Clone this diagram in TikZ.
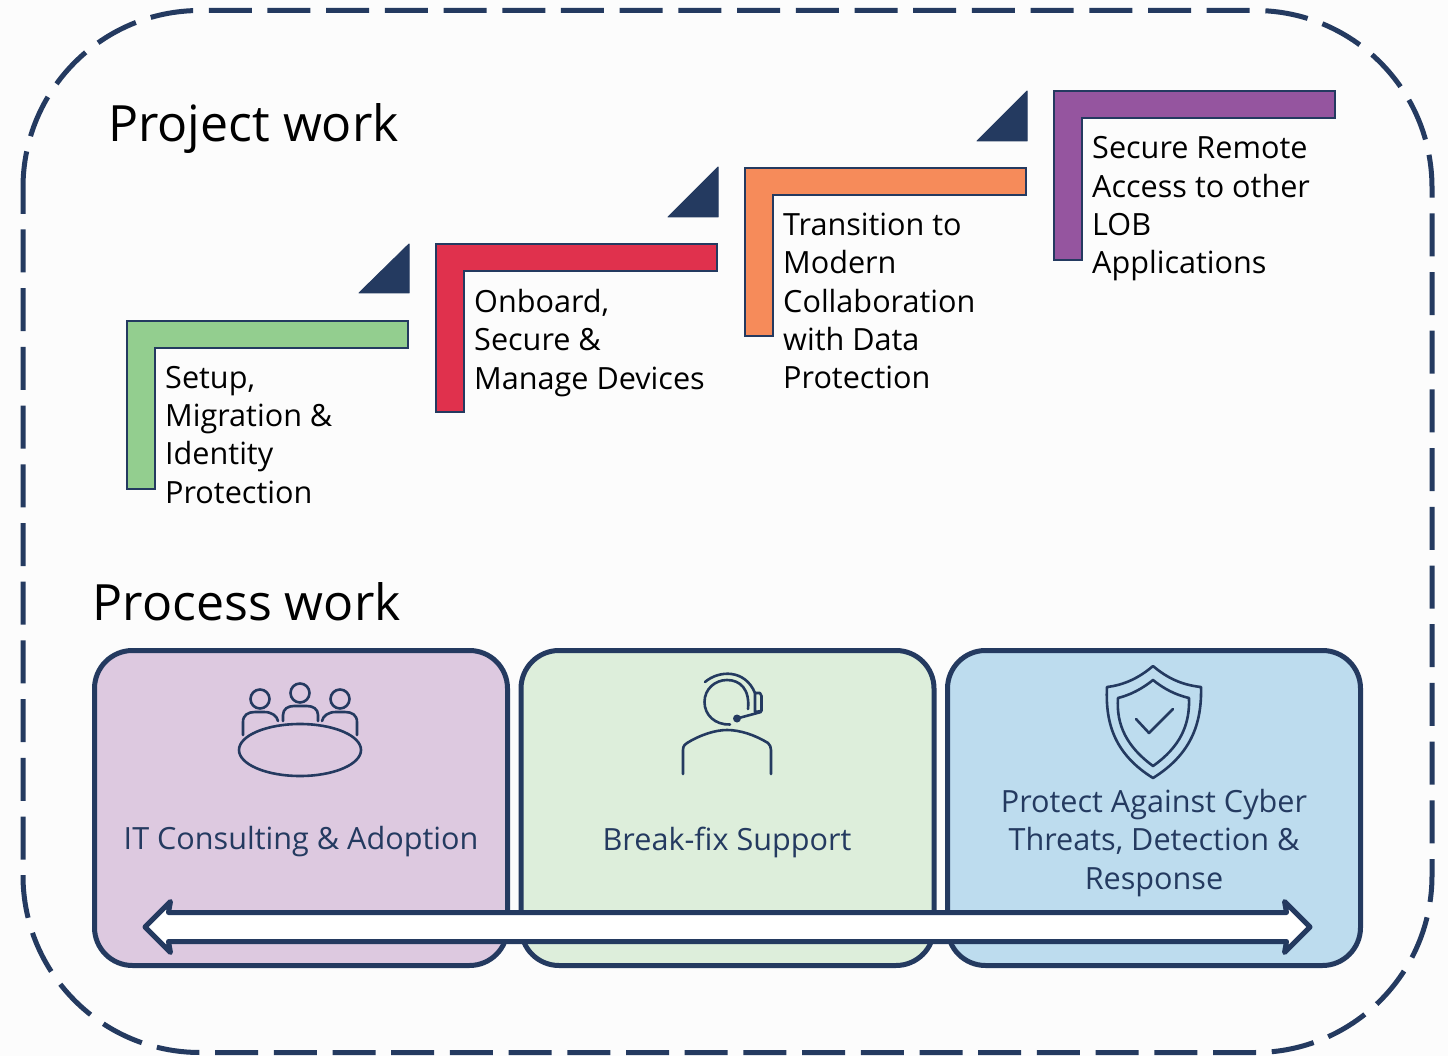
\documentclass[tikz,border=0pt]{standalone}
\usepackage{fontspec}
\setmainfont{Open Sans}
\usetikzlibrary{positioning,shapes.arrows}

\definecolor{navy}{HTML}{243A60}
\definecolor{pagetint}{HTML}{FCFCFC}
\definecolor{stepgreen}{HTML}{93CE8F}
\definecolor{stepred}{HTML}{E0314D}
\definecolor{steporange}{HTML}{F68B5A}
\definecolor{steppurple}{HTML}{95559F}
\definecolor{boxpurple}{HTML}{DDC9E0}
\definecolor{boxgreen}{HTML}{DDEEDB}
\definecolor{boxblue}{HTML}{BDDCEE}

\begin{document}
\begin{tikzpicture}[x=1pt,y=-1pt,
  title node/.style={inner sep=0pt,anchor=base west,font=\fontsize{50}{60}\selectfont},
  step text/.style={inner sep=0pt,anchor=north west,align=left,
    font=\fontsize{30.6}{38.3}\selectfont},
  step bar/.style={draw=navy,line width=1.5pt},
  corner mark/.style={fill=navy,draw=navy,line width=1pt,line join=round},
  main box/.style={rectangle,rounded corners=38pt,draw=navy,line width=5pt,
    minimum width=413pt,minimum height=315pt,inner sep=0pt},
  box text/.style={inner sep=0pt,align=center,text=navy,
    font=\fontsize{30.6}{38.3}\selectfont},
  icon/.style={draw=navy,line width=2.6pt,line cap=round,line join=round}]

  \useasboundingbox (0,0) rectangle (1448,1056);
  \fill[pagetint] (0,0) rectangle (1448,1056);

  %dashed frame round everything
  \draw[navy,line width=5pt,rounded corners=177pt,dash pattern=on 43pt off 15.7pt,dash phase=16.7pt]
    (23,10.5) rectangle (1432,1052.5);

  \node[title node] (project) at (108,142) {Project work};
  \node[title node] (process) at (92.5,620) {Process work};

  %the four steps, each one 309 right and 77 up from the last
  \draw[step bar,fill=stepgreen] (127,321) -- (408,321) -- (408,348) -- (155,348) -- (155,489) -- (127,489) -- cycle;
  \draw[step bar,fill=stepred] (436,244) -- (717,244) -- (717,271) -- (464,271) -- (464,412) -- (436,412) -- cycle;
  \draw[step bar,fill=steporange] (745,168) -- (1026,168) -- (1026,195) -- (773,195) -- (773,336) -- (745,336) -- cycle;
  \draw[step bar,fill=steppurple] (1054,91) -- (1335,91) -- (1335,118) -- (1082,118) -- (1082,260) -- (1054,260) -- cycle;

  \draw[corner mark] (359,293) -- (409,293) -- (409,244) -- cycle;
  \draw[corner mark] (668,217) -- (718,217) -- (718,167) -- cycle;
  \draw[corner mark] (977,141) -- (1027,141) -- (1027,91) -- cycle;

  \node[step text] (setup) at (165,366) {Setup,\\Migration \&\\Identity\\Protection};
  \node[step text] (onboard) at (474,289) {Onboard,\\Secure \&\\Manage Devices};
  \node[step text] (transition) at (783,213) {Transition to\\Modern\\Collaboration\\with Data\\Protection};
  \node[step text] (remote) at (1092,136.5) {Secure Remote\\Access to other\\LOB\\Applications};

  %process boxes
  \node[main box,fill=boxpurple] (consult) at (301,808) {};
  \node[main box,fill=boxgreen] (breakfix) [right=8.5pt of consult] {};
  \node[main box,fill=boxblue] (protect) [right=8.5pt of breakfix] {};

  \node[box text] (consulttext) at (301,842) {IT Consulting \& Adoption};
  \node[box text] (breakfixtext) at (727,842) {Break-fix Support};
  \node[box text] (protecttext) at (1154,843) {Protect Against Cyber\\Threats, Detection \&\\Response};

  %arrow over the three boxes
  \node[shape=double arrow,draw=navy,fill=white,line width=5pt,line join=round,
    minimum height=1165pt,minimum width=46pt,inner xsep=0pt,inner ysep=12pt,
    double arrow head extend=11pt,double arrow head indent=2pt] (span) at (727.5,927) {};

  %meeting table icon
  \draw[icon] (300,750) ellipse (61 and 26);
  \draw[icon] (260,699) circle (9.5) (300,693) circle (9.5) (340,699) circle (9.5);
  \draw[icon] (243,735) -- (243,722) .. controls (243,715) and (248,712) .. (255,712)
    -- (264,712) .. controls (272,712) and (277,716) .. (278,721);
  \draw[icon] (283,721) -- (283,715) .. controls (283,709) and (288,706) .. (294,706)
    -- (307,706) .. controls (313,706) and (318,709) .. (318,715) -- (318,721);
  \draw[icon] (357,735) -- (357,722) .. controls (357,715) and (352,712) .. (345,712)
    -- (336,712) .. controls (328,712) and (323,716) .. (322,721);

  %headset icon
  \draw[icon] (730,724.5) .. controls (715,725) and (704.5,715) .. (704.5,702)
    .. controls (704.5,689) and (715,680) .. (727,680)
    .. controls (740,680) and (750,689) .. (748,709);
  \draw[icon] (705,682) .. controls (719,670) and (745,669) .. (755,693);
  \draw[icon] (755,693) -- (760,693) -- (761.5,696) -- (761.5,711) -- (755,712) -- (755,693);
  \draw[icon] (761,712) -- (737,718.5);
  \fill[navy] (737,718.5) circle (4);
  \draw[icon] (683,774) -- (683,750) .. controls (683,746) and (685,744) .. (687,743)
    .. controls (700,735) and (715,730) .. (727,730)
    .. controls (740,730) and (755,735) .. (768,743)
    .. controls (770,745) and (771,747) .. (771,750) -- (771,774);

  %shield icon
  \draw[icon] (1153,666) .. controls (1167,678) and (1182,685) .. (1201,687)
    .. controls (1202,725) and (1190,755) .. (1153,778)
    .. controls (1116,755) and (1105,725) .. (1107,687)
    .. controls (1124,685) and (1139,678) .. (1153,666) -- cycle;
  \draw[icon] (1153,680) .. controls (1164,689) and (1176,695) .. (1189,698)
    .. controls (1190,725) and (1180,747) .. (1153,766)
    .. controls (1127,747) and (1116,725) .. (1118,698)
    .. controls (1130,695) and (1142,689) .. (1153,680) -- cycle;
  \draw[icon] (1136,719) -- (1149,733) -- (1173,709);

\end{tikzpicture}
\end{document}
